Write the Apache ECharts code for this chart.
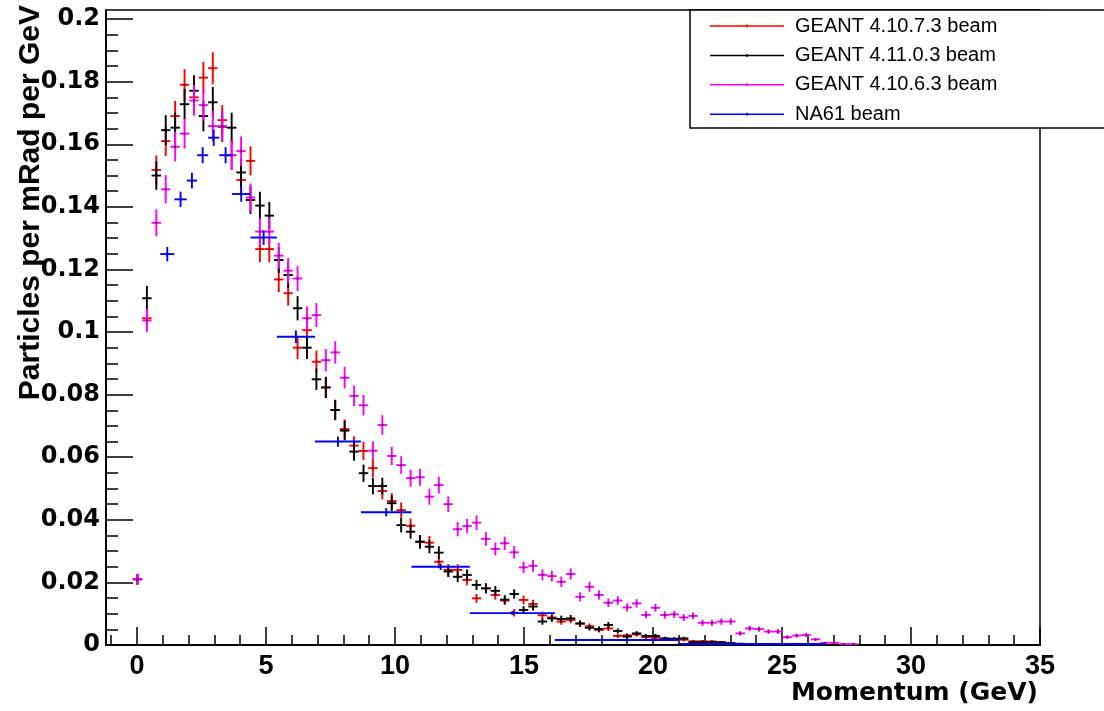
<!DOCTYPE html>
<html>
<head>
<meta charset="utf-8">
<script src="https://cdn.jsdelivr.net/npm/echarts@6/dist/echarts.min.js"></script>
<style>
    html, body { margin: 0; padding: 0; background: #fff; }
    #chart { width: 1104px; height: 711px; }
</style>
</head>
<body>
<div id="chart"></div>
<script>
// GEANT histograms all use the same binning (GeV)
var geantFirstCenter = 0.02;
var geantBinWidth = 0.365;

var g4_10_7_3 = [0.021, 0.1044, 0.1518, 0.161, 0.169, 0.179, 0.175, 0.1813, 0.1843, 0.1677,
    0.1565, 0.1486, 0.1547, 0.1265, 0.1265, 0.1168, 0.1124, 0.095, 0.1006, 0.0905,
    0.0823, 0.0751, 0.069, 0.0637, 0.062, 0.0565, 0.0492, 0.046, 0.0431, 0.0381,
    0.033, 0.0327, 0.0266, 0.024, 0.024, 0.0208, 0.0149, 0.0181, 0.016, 0.0142,
    0.0103, 0.0144, 0.0131, 0.0095, 0.0088, 0.0075, 0.008, 0.0068, 0.006, 0.0048,
    0.0053, 0.0029, 0.0031, 0.0034, 0.0025, 0.0023, 0.002, 0.0018, 0.0017, 0.0012,
    0.0012, 0.0011, 0.0009, 0.0005, 0.0003, 0.0002, 0.0001];

var g4_11_0_3 = [0.021, 0.1108, 0.150, 0.1645, 0.1653, 0.1728, 0.1771, 0.169, 0.1734, 0.1656,
    0.1653, 0.151, 0.1422, 0.1404, 0.1372, 0.123, 0.1182, 0.1076, 0.095, 0.0849,
    0.0823, 0.0751, 0.0685, 0.0618, 0.0549, 0.0508, 0.0508, 0.0453, 0.0383, 0.0362,
    0.033, 0.0314, 0.0295, 0.0235, 0.0218, 0.0224, 0.0192, 0.0181, 0.0173, 0.0145,
    0.0163, 0.0112, 0.0123, 0.0075, 0.0085, 0.0083, 0.0085, 0.0069, 0.0055, 0.0051,
    0.0064, 0.0045, 0.0027, 0.0037, 0.0029, 0.0029, 0.0021, 0.002, 0.0021, 0.0009,
    0.0009, 0.001, 0.0008, 0.0006, 0.0004, 0.0003, 0.0002, 0.0001, 0.0001];

var g4_10_6_3 = [0.021, 0.1037, 0.1349, 0.1456, 0.1592, 0.1634, 0.174, 0.1725, 0.1658, 0.1658,
    0.1565, 0.1578, 0.143, 0.1321, 0.1321, 0.1244, 0.1196, 0.1171, 0.1044, 0.1054,
    0.091, 0.0935, 0.0854, 0.0796, 0.0766, 0.0621, 0.0703, 0.0604, 0.0575, 0.0533,
    0.0536, 0.0474, 0.0511, 0.045, 0.037, 0.038, 0.0391, 0.0339, 0.0307, 0.0325,
    0.0296, 0.0248, 0.0253, 0.0224, 0.022, 0.0202, 0.0227, 0.0154, 0.0186, 0.016,
    0.0135, 0.0142, 0.012, 0.0133, 0.0096, 0.0119, 0.0096, 0.0098, 0.0088, 0.0093,
    0.0071, 0.0071, 0.0075, 0.0075, 0.0037, 0.0053, 0.0051, 0.0043, 0.0043, 0.0025,
    0.003, 0.0032, 0.0018, 0.0007, 0.0007, 0.0003, 0.0003];

// NA61 has variable bins
var na61Edges = [0.9, 1.45, 1.93, 2.33, 2.76, 3.19, 3.68, 4.4, 5.42, 6.9, 8.68, 10.64, 12.9, 16.2, 21.0, 26.7];
var na61Values = [0.1249, 0.1424, 0.1484, 0.1565, 0.1621, 0.1565, 0.1441, 0.1302, 0.0985, 0.065,
    0.0424, 0.025, 0.0102, 0.0016, 0.0003];

var xMajorTicks = [0, 5, 10, 15, 20, 25, 30, 35];
var yMajorTicks = [0, 0.02, 0.04, 0.06, 0.08, 0.1, 0.12, 0.14, 0.16, 0.18, 0.2];

var seriesNames = ['GEANT 4.10.7.3 beam', 'GEANT 4.11.0.3 beam', 'GEANT 4.10.6.3 beam', 'NA61 beam'];
var seriesColors = ['#ff0000', '#000000', '#ff00ff', '#0000ff'];

// stat errors ~ sqrt(content)
var geantErr = 0.0118;
var na61Err = 0.0065;

var xMinorTicks = [];
for (var i = -1; i <= 35; i++) xMinorTicks.push(i);
var yMinorTicks = [];
for (var j = 0; j <= 40; j++) yMinorTicks.push(+(j * 0.005).toFixed(3));

function geantPoints(values) {
    var pts = [];
    for (var k = 0; k < values.length; k++) {
        if (values[k] <= 0) continue;
        var c = geantFirstCenter + k * geantBinWidth;
        pts.push([c, values[k], c - geantBinWidth / 2, c + geantBinWidth / 2, geantErr * Math.sqrt(values[k])]);
    }
    return pts;
}

function na61Points() {
    var pts = [];
    for (var k = 0; k < na61Values.length; k++) {
        var lo = na61Edges[k], hi = na61Edges[k + 1];
        pts.push([(lo + hi) / 2, na61Values[k], lo, hi, na61Err * Math.sqrt(na61Values[k])]);
    }
    return pts;
}

// ROOT style "E" drawing: bin-width bar + vertical error bar
function renderCross(params, api) {
    var x = api.value(0), y = api.value(1);
    var e = api.value(4);
    var c = api.coord([x, y]);
    var l = api.coord([api.value(2), y]);
    var r = api.coord([api.value(3), y]);
    var t = api.coord([x, y + e]);
    var b = api.coord([x, Math.max(y - e, 0)]);
    var color = api.visual('color');
    return {
        type: 'group',
        children: [
            { type: 'line', shape: { x1: l[0], y1: c[1], x2: r[0], y2: c[1] }, style: { stroke: color, lineWidth: 1.9 } },
            { type: 'line', shape: { x1: c[0], y1: t[1], x2: c[0], y2: b[1] }, style: { stroke: color, lineWidth: 1.9 } },
            { type: 'rect', shape: { x: c[0] - 1, y: c[1] - 1, width: 2, height: 2 }, style: { fill: '#000', opacity: 0.6 } }
        ]
    };
}

var allData = [geantPoints(g4_10_7_3), geantPoints(g4_11_0_3), geantPoints(g4_10_6_3), na61Points()];

var series = [];
for (var s = 0; s < 4; s++) {
    series.push({
        name: seriesNames[s],
        type: 'custom',
        renderItem: renderCross,
        clip: true,
        xAxisIndex: 0,
        yAxisIndex: 0,
        itemStyle: { color: seriesColors[s] },
        encode: { x: 0, y: 1 },
        data: allData[s],
        z: 2 + s,
        animation: false
    });
}

var legendIcon = 'path://M0,3 H100 V5 H0 Z M49,2 H51 V6 H49 Z';
var blackLine = { color: '#000', width: 2 };

var option = {
    animation: false,
    backgroundColor: '#fff',
    grid: {
        left: 106, right: 64, top: 10, bottom: 66,
        show: true, borderColor: '#000', borderWidth: 1.5,
        containLabel: false, outerBoundsMode: 'none'
    },
    legend: {
        orient: 'vertical',
        left: 705,
        top: 11,
        itemWidth: 74,
        itemHeight: 4,
        itemGap: 9.4,
        z: 10,
        textStyle: { fontFamily: 'Liberation Sans', fontSize: 20, color: '#000', lineHeight: 20, padding: [0, 0, 0, 6] },
        data: seriesNames.map(function (n) { return { name: n, icon: legendIcon }; })
    },
    graphic: [
        {
            type: 'rect', z: 3,
            shape: { x: 690, y: 10, width: 430, height: 118 },
            style: { fill: '#fff', stroke: '#000', lineWidth: 1.5 }
        },
        {
            type: 'text', z: 3,
            x: 31, y: 5, rotation: Math.PI / 2,
            style: {
                text: 'Particles per mRad per GeV',
                font: 'bold 30px "Liberation Sans"',
                fill: '#000', align: 'right', verticalAlign: 'middle'
            }
        },
        {
            type: 'text', z: 3,
            x: 1038, y: 693,
            style: {
                text: 'Momentum (GeV)',
                font: 'bold 25px "DejaVu Sans"',
                fill: '#000', align: 'right', verticalAlign: 'middle'
            }
        }
    ],
    xAxis: [{
        type: 'value', min: -1.2, max: 35, position: 'bottom',
        axisLine: { show: true, onZero: false, lineStyle: blackLine },
        axisTick: { show: true, inside: true, length: 18, customValues: xMajorTicks, lineStyle: { color: '#000', width: 1.5 } },
        axisLabel: { show: true, customValues: xMajorTicks, fontFamily: 'Liberation Sans', fontWeight: 'bold', fontSize: 27, color: '#000', margin: 8 },
        splitLine: { show: false }
    }, {
        type: 'value', min: -1.2, max: 35, position: 'bottom',
        axisLine: { show: false, onZero: false },
        axisTick: { show: true, inside: true, length: 10, customValues: xMinorTicks, lineStyle: { color: '#000', width: 1.5 } },
        axisLabel: { show: false },
        splitLine: { show: false }
    }],
    yAxis: [{
        type: 'value', min: 0, max: 0.2029, position: 'left',
        axisLine: { show: true, onZero: false, lineStyle: blackLine },
        axisTick: { show: true, inside: true, length: 27, customValues: yMajorTicks, lineStyle: { color: '#000', width: 1.5 } },
        axisLabel: { show: true, customValues: yMajorTicks, fontFamily: 'DejaVu Sans', fontWeight: 'bold', fontSize: 24, color: '#000', margin: 6 },
        splitLine: { show: false }
    }, {
        type: 'value', min: 0, max: 0.2029, position: 'left',
        axisLine: { show: false, onZero: false },
        axisTick: { show: true, inside: true, length: 12, customValues: yMinorTicks, lineStyle: { color: '#000', width: 1.5 } },
        axisLabel: { show: false },
        splitLine: { show: false }
    }],
    series: series
};

var myChart = echarts.init(document.getElementById('chart'), null, { renderer: 'canvas' });
myChart.setOption(option);
</script>
</body>
</html>
